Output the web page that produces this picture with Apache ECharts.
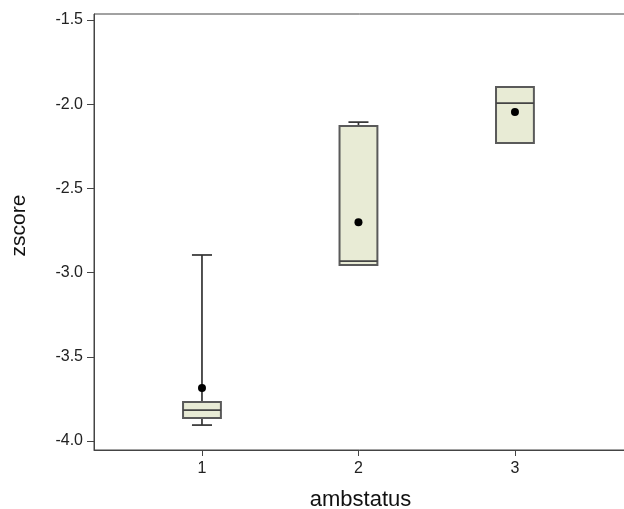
<!DOCTYPE html>
<html><head><meta charset="utf-8">
<script src="https://cdn.jsdelivr.net/npm/echarts@6/dist/echarts.min.js"></script>
<style>html,body{margin:0;padding:0;background:#fff;overflow:hidden}#c{width:624px;height:509px}</style>
</head><body><div id="c"></div>
<script>
const categories = [1, 2, 3];
const minVals    = [-3.905, -2.955, -2.230];
const q1Vals     = [-3.863, -2.955, -2.230];
const medianVals = [-3.816, -2.931, -1.993];
const q3Vals     = [-3.768, -2.129, -1.898];
const maxVals    = [-2.895, -2.106, -1.898];
const meanVals   = [-3.685, -2.700, -2.046];
const yTicks = [-4.0, -3.5, -3.0, -2.5, -2.0, -1.5];
const xTicks = [1, 2, 3];

const data = categories.map((c, i) => [c, minVals[i], q1Vals[i], medianVals[i], q3Vals[i], maxVals[i], meanVals[i]]);

const chart = echarts.init(document.getElementById('c'), null, {renderer: 'canvas'});
const font = 'Liberation Sans, Arial, sans-serif';

function renderItem(params, api) {
  const x = api.value(0);
  const pxPerUnit = api.size([1, 0])[0];
  const bw = pxPerUnit * 0.121;
  const cw = pxPerUnit * 0.064;
  const pMin = api.coord([x, api.value(1)]);
  const pQ1 = api.coord([x, api.value(2)]);
  const pMed = api.coord([x, api.value(3)]);
  const pQ3 = api.coord([x, api.value(4)]);
  const pMax = api.coord([x, api.value(5)]);
  const pMean = api.coord([x, api.value(6)]);
  const cx = pQ1[0];
  const children = [];
  const wStyle = {stroke: '#333', lineWidth: 1.7};
  if (pMax[1] < pQ3[1] - 0.5) {
    children.push({type: 'line', shape: {x1: cx, y1: pQ3[1], x2: cx, y2: pMax[1]}, style: wStyle});
    children.push({type: 'line', shape: {x1: cx - cw, y1: pMax[1], x2: cx + cw, y2: pMax[1]}, style: wStyle});
  }
  if (pMin[1] > pQ1[1] + 0.5) {
    children.push({type: 'line', shape: {x1: cx, y1: pQ1[1], x2: cx, y2: pMin[1]}, style: wStyle});
    children.push({type: 'line', shape: {x1: cx - cw, y1: pMin[1], x2: cx + cw, y2: pMin[1]}, style: wStyle});
  }
  children.push({type: 'rect', shape: {x: cx - bw, y: pQ3[1], width: 2 * bw, height: pQ1[1] - pQ3[1]},
    style: {fill: '#e8ebd5', stroke: '#5a5a5a', lineWidth: 2}});
  children.push({type: 'line', shape: {x1: cx - bw, y1: pMed[1], x2: cx + bw, y2: pMed[1]}, style: {stroke: '#444', lineWidth: 1.7}});
  children.push({type: 'circle', shape: {cx: cx, cy: pMean[1], r: 4}, style: {fill: '#000'}});
  return {type: 'group', children: children};
}

chart.setOption({
  animation: false,
  backgroundColor: '#fff',
  grid: {left: 94, top: 14, right: -3, bottom: 59, outerBoundsMode: 'none', containLabel: false,
    show: true, borderColor: '#444', borderWidth: 1},
  xAxis: {
    type: 'value', min: 0.31, max: 3.716,
    name: 'ambstatus', nameLocation: 'middle', nameGap: 39,
    nameTextStyle: {fontFamily: font, fontSize: 22, color: '#111'},
    axisLine: {show: true, lineStyle: {color: '#444', width: 1}},
    axisTick: {show: true, length: 6, customValues: xTicks, lineStyle: {color: '#444'}},
    axisLabel: {customValues: xTicks, fontFamily: font, fontSize: 16, color: '#222', margin: 11},
    splitLine: {show: false}
  },
  yAxis: {
    type: 'value', min: -4.053, max: -1.464,
    name: 'zscore', nameLocation: 'middle', nameGap: 64, nameRotate: 90,
    nameTextStyle: {fontFamily: font, fontSize: 21, color: '#111', padding: [0, 0, 0, 13]},
    axisLine: {show: true, lineStyle: {color: '#444', width: 1}},
    axisTick: {show: true, length: 7, customValues: yTicks, lineStyle: {color: '#444'}},
    axisLabel: {customValues: yTicks, fontFamily: font, fontSize: 16, color: '#222', margin: 11,
      formatter: v => v.toFixed(1)},
    splitLine: {show: false}
  },
  series: [{
    type: 'custom',
    renderItem: renderItem,
    encode: {x: 0, y: [1, 2, 3, 4, 5, 6]},
    data: data
  }]
});
</script></body></html>
